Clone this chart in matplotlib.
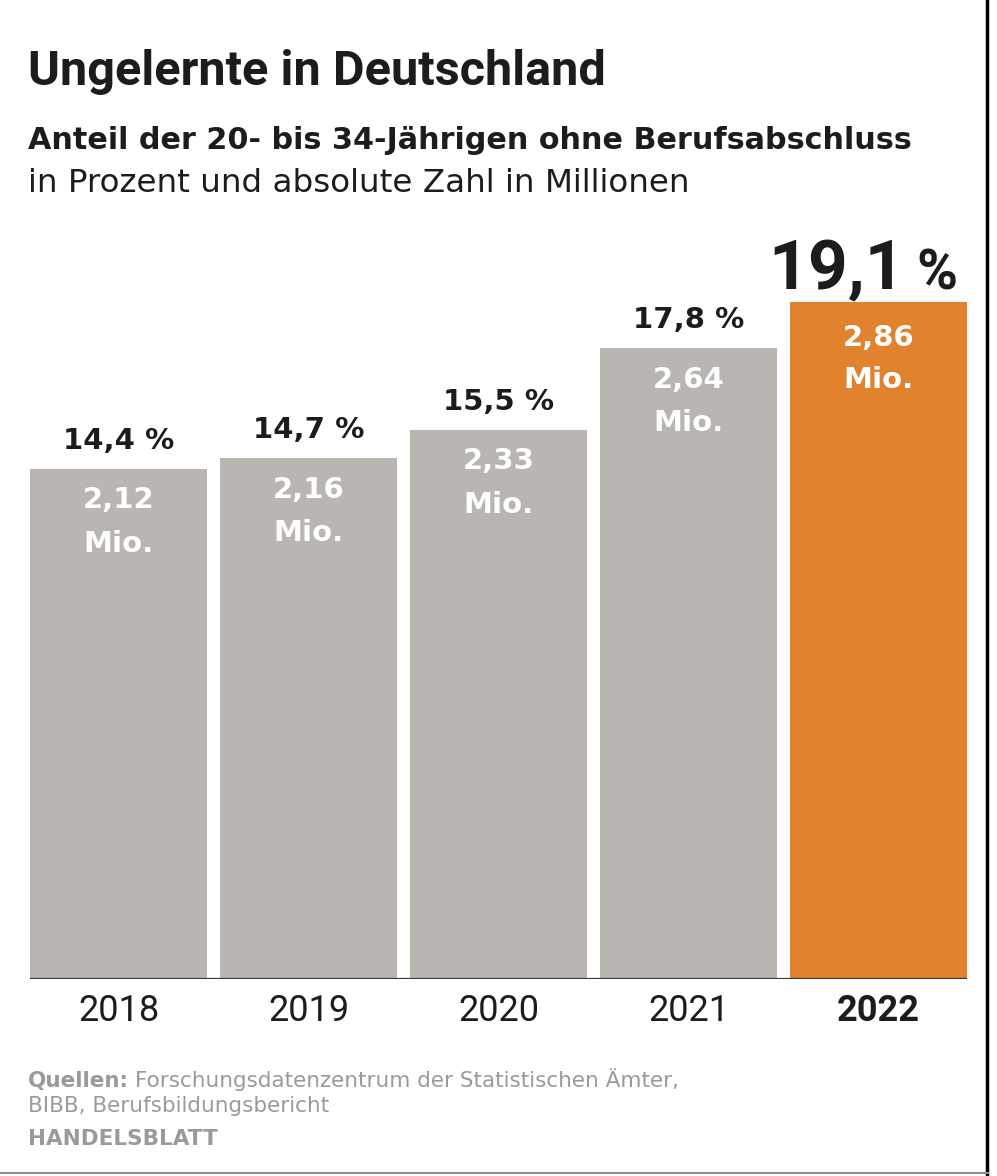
import matplotlib
matplotlib.use("Agg")
import matplotlib.pyplot as plt
from matplotlib.lines import Line2D

years = ["2018", "2019", "2020", "2021", "2022"]
shares = [14.4, 14.7, 15.5, 17.8, 19.1]
share_labels = ["14,4 %", "14,7 %", "15,5 %", "17,8 %", "19,1"]
millions = ["2,12", "2,16", "2,33", "2,64", "2,86"]

GREY = "#b9b5b0"
ORANGE = "#e0822e"
DARK = "#1c1c1c"
SOURCE = "#9a9a9a"
NARROW = ["Roboto", "DejaVu Sans"]
SANS = ["DejaVu Sans"]

W, H = 997, 1176
fig = plt.figure(figsize=(W / 100, H / 100), dpi=100)
fig.patch.set_facecolor("white")

# axes placed in pixel units: bars span x 30..967, baseline at y 979
left, right, base, top = 30, 967, 979, 200
ax = fig.add_axes([left / W, 1 - base / H, (right - left) / W, (base - top) / H])
px_per_pct = 35.45
ax.set_ylim(0, (base - top) / px_per_pct)
ax.set_xlim(-0.466, len(years) - 1 + 0.466)

colors = [GREY] * (len(years) - 1) + [ORANGE]
ax.bar(range(len(years)), shares, width=177 / 190, color=colors)
ax.axhline(0, color="#3a3a3a", lw=1.6)

for s in ax.spines.values():
    s.set_visible(False)
ax.set_yticks([])
ax.set_xticks(range(len(years)))
ax.set_xticklabels(years, fontsize=26, family=NARROW, color=DARK)
ax.tick_params(axis="x", length=0, pad=10)
ax.get_xticklabels()[-1].set_fontweight("bold")

for i, (v, lab, mio) in enumerate(zip(shares, share_labels, millions)):
    last = i == len(years) - 1
    if last:
        # big highlighted value, "%" set smaller next to it
        ax.annotate(lab, (i + 0.14, v), xytext=(0, 9), textcoords="offset points",
                    ha="right", va="baseline", fontsize=50, fontweight="bold",
                    family=NARROW, color=DARK)
        ax.annotate("%", (i + 0.20, v), xytext=(0, 9), textcoords="offset points",
                    ha="left", va="baseline", fontsize=40, fontweight="bold",
                    family=NARROW, color=DARK)
        off1, off2 = -26, -56
    else:
        ax.annotate(lab, (i, v), xytext=(0, 20), textcoords="offset points",
                    ha="center", va="center", fontsize=21, fontweight="bold",
                    family=SANS, color=DARK)
        off1, off2 = -23, -54
    ax.annotate(mio, (i, v), xytext=(0, off1), textcoords="offset points",
                ha="center", va="center", fontsize=21, fontweight="bold",
                family=SANS, color="white")
    ax.annotate("Mio.", (i, v), xytext=(0, off2), textcoords="offset points",
                ha="center", va="center", fontsize=21, fontweight="bold",
                family=SANS, color="white")

# headings
fig.text(28 / W, 1 - 85 / H, "Ungelernte in Deutschland", fontsize=35,
         fontweight="bold", family=NARROW, color=DARK, va="baseline")
fig.text(28 / W, 1 - 149 / H, "Anteil der 20- bis 34-Jährigen ohne Berufsabschluss",
         fontsize=21.8, fontweight="bold", family=SANS, color=DARK, va="baseline")
fig.text(28 / W, 1 - 192 / H, "in Prozent und absolute Zahl in Millionen",
         fontsize=23.4, family=SANS, color=DARK, va="baseline")

# footer
t = fig.text(28 / W, 1 - 1087 / H, "Quellen:", fontsize=15.5, fontweight="bold",
             family=SANS, color=SOURCE, va="baseline")
fig.canvas.draw()
bb = t.get_window_extent()
fig.text((bb.x1 + 6) / W, 1 - 1087 / H, "Forschungsdatenzentrum der Statistischen Ämter,",
         fontsize=15.5, family=SANS, color=SOURCE, va="baseline")
fig.text(28 / W, 1 - 1112 / H, "BIBB, Berufsbildungsbericht", fontsize=15.5,
         family=SANS, color=SOURCE, va="baseline")
fig.text(28 / W, 1 - 1145 / H, "HANDELSBLATT", fontsize=15.5, fontweight="bold",
         family=SANS, color=SOURCE, va="baseline")

# frame edges of the original screenshot
fig.add_artist(Line2D([987 / W, 987 / W], [2 / H, 1], transform=fig.transFigure,
                      color="black", lw=2.5))
fig.add_artist(Line2D([0, 988 / W], [3 / H, 3 / H], transform=fig.transFigure,
                      color="#8c8c8c", lw=1.5))

fig.savefig("out.png", dpi=100, facecolor="white")
